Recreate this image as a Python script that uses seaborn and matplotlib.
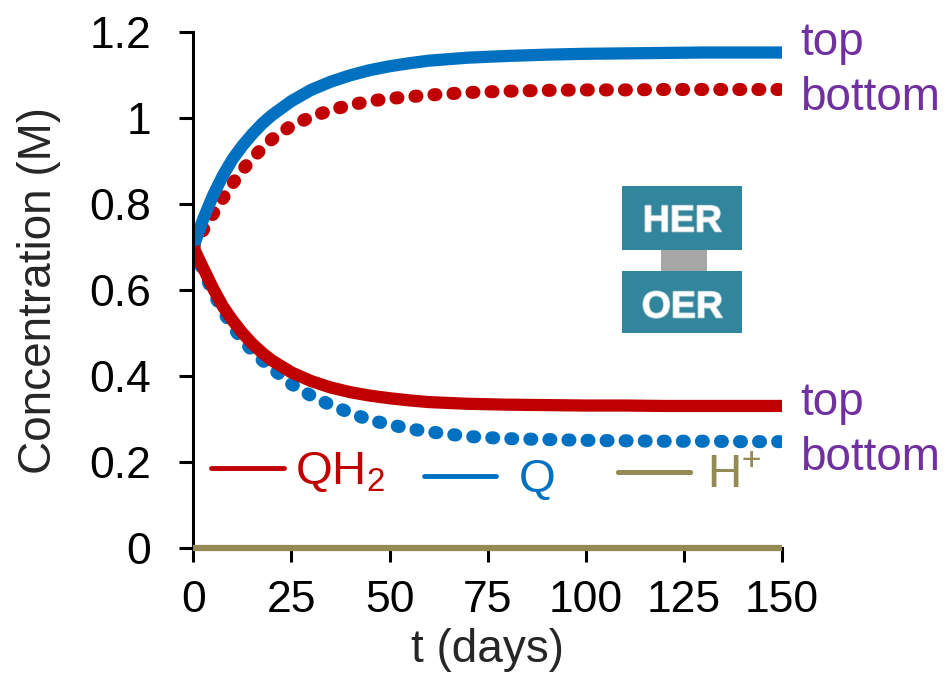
import matplotlib
matplotlib.use("Agg")
import matplotlib.pyplot as plt
from matplotlib.lines import Line2D
from matplotlib.patches import Rectangle
import matplotlib.patheffects as pe
import pandas as pd
import seaborn as sns

# Time axis (days) and concentrations (M) in the two compartments
t_days = [0, 2.5, 5, 7.5, 10, 12.5, 15, 17.5, 20, 25, 30, 35, 40, 45, 50,
          55, 60, 70, 80, 90, 100, 110, 120, 130, 140, 150]
q_top = [0.700, 0.765, 0.820, 0.866, 0.905, 0.936, 0.963, 0.987, 1.007, 1.040,
         1.066, 1.085, 1.100, 1.112, 1.121, 1.128, 1.134, 1.141, 1.145, 1.148,
         1.150, 1.151, 1.152, 1.153, 1.153, 1.153]
qh2_bottom = [0.700, 0.740, 0.777, 0.813, 0.848, 0.880, 0.906, 0.930, 0.951, 0.983,
              1.003, 1.019, 1.031, 1.040, 1.046, 1.050, 1.054, 1.060, 1.063, 1.065,
              1.066, 1.066, 1.067, 1.067, 1.067, 1.067]
qh2_top = [0.700, 0.652, 0.605, 0.563, 0.530, 0.501, 0.476, 0.455, 0.437, 0.409,
           0.389, 0.374, 0.363, 0.355, 0.349, 0.344, 0.340, 0.336, 0.334, 0.333,
           0.332, 0.332, 0.331, 0.331, 0.331, 0.331]
q_bottom = [0.700, 0.645, 0.595, 0.553, 0.515, 0.485, 0.460, 0.438, 0.419, 0.382,
            0.355, 0.333, 0.315, 0.298, 0.288, 0.278, 0.271, 0.260, 0.255, 0.253,
            0.251, 0.250, 0.249, 0.249, 0.248, 0.248]
h_t = [0, 150]
h_plus = [0.0, 0.0]

x_ticks = [0, 25, 50, 75, 100, 125, 150]
y_ticks = [0, 0.2, 0.4, 0.6, 0.8, 1.0, 1.2]
y_tick_labels = ["0", "0.2", "0.4", "0.6", "0.8", "1", "1.2"]

RED = "#C00000"
BLUE = "#0070C0"
TAN = "#948A54"
PURPLE = "#7030A0"
TEAL = "#31859C"
GREY = "#A6A6A6"

sns.set_style("ticks")
plt.rcParams["font.family"] = ["Liberation Sans", "DejaVu Sans"]
plt.rcParams["mathtext.fontset"] = "custom"
plt.rcParams["mathtext.rm"] = "Liberation Sans"
plt.rcParams["mathtext.it"] = "Liberation Sans"
plt.rcParams["mathtext.bf"] = "Liberation Sans:bold"
plt.rcParams["mathtext.default"] = "regular"

df = pd.DataFrame({"t": t_days, "q_top": q_top, "qh2_bottom": qh2_bottom,
                   "qh2_top": qh2_top, "q_bottom": q_bottom})

fig = plt.figure(figsize=(9.48, 6.8), dpi=100)
ax = fig.add_axes([0.2039, 0.1937, 0.621, 0.7588])

dot_style = dict(linestyle=(0, (0.15, 1.31)), dash_capstyle="round", lw=9.4)
sns.lineplot(data=df, x="t", y="qh2_bottom", ax=ax, color=RED, **dot_style)
sns.lineplot(data=df, x="t", y="q_bottom", ax=ax, color=BLUE, **dot_style)
sns.lineplot(data=df, x="t", y="q_top", ax=ax, color=BLUE, lw=8.8,
             solid_capstyle="butt")
sns.lineplot(data=df, x="t", y="qh2_top", ax=ax, color=RED, lw=8.8,
             solid_capstyle="butt")
sns.lineplot(x=h_t, y=h_plus, ax=ax, color=TAN, lw=4.5, clip_on=False,
             zorder=4, solid_capstyle="butt")

ax.set_xlim(0, 150)
ax.set_ylim(0, 1.2)
ax.set_xticks(x_ticks)
ax.set_yticks(y_ticks)
ax.set_yticklabels(y_tick_labels)
sns.despine(ax=ax)
for side in ("left", "bottom"):
    ax.spines[side].set_linewidth(2.2)
    ax.spines[side].set_color("black")
ax.tick_params(axis="both", direction="out", length=10, width=2.2,
               labelsize=32, colors="black")
ax.tick_params(axis="x", pad=12.5)
ax.tick_params(axis="y", pad=20.5)

ax.set_xlabel("t (days)", fontsize=33)
ax.set_ylabel("Concentration (M)", fontsize=33)
ax.xaxis.set_label_coords(0.5, -0.1545)
ax.yaxis.set_label_coords(-0.225, 0.5)

# Legend keys, each with its own colored label
keys = [(RED, "QH$_2$", 0.0306, 0.147, 0.24),
        (BLUE, "Q", 0.392, 0.132, 0.47),
        (TAN, "H$^{+}$", 0.7214, 0.140, 0.36)]
for col, lab, kx, ky, gap in keys:
    h = Line2D([], [], color=col, lw=3.5)
    leg = ax.legend([h], [lab], loc="center left", bbox_to_anchor=(kx, ky),
                    frameon=False, handlelength=1.53, handletextpad=gap,
                    borderpad=0, borderaxespad=0, fontsize=34, labelcolor=col)
    ax.add_artist(leg)

# Cell schematic: HER electrode above, OER electrode below
ax.add_patch(Rectangle((109.3, 0.694), 30.6, 0.149, facecolor=TEAL,
                       edgecolor="none", zorder=5))
ax.add_patch(Rectangle((119.1, 0.645), 11.9, 0.049, facecolor=GREY,
                       edgecolor="none", zorder=5))
ax.add_patch(Rectangle((109.3, 0.500), 30.6, 0.145, facecolor=TEAL,
                       edgecolor="none", zorder=5))
outline = [pe.withStroke(linewidth=1.2, foreground="#b9cfd4")]
ax.text(124.6, 0.760, "HER", color="white", fontsize=27, fontweight="bold",
        ha="center", va="center", zorder=6, path_effects=outline)
ax.text(124.6, 0.560, "OER", color="white", fontsize=27, fontweight="bold",
        ha="center", va="center", zorder=6, path_effects=outline)

# Compartment labels beside the plateaus
for yv, lab in [(1.148, "top"), (1.020, "bottom"), (0.310, "top"), (0.182, "bottom")]:
    ax.text(154.6, yv, lab, color=PURPLE, fontsize=33, ha="left",
            va="baseline", clip_on=False)

fig.savefig("out.png", dpi=100)
